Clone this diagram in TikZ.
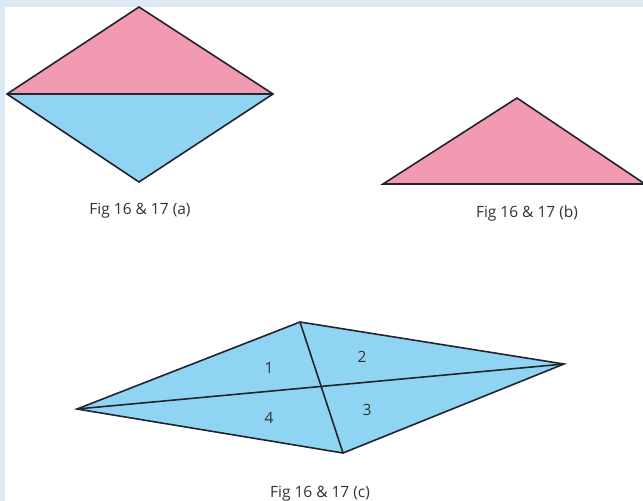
\documentclass[tikz,border=0pt]{standalone}
\usepackage{fontspec}
\setmainfont{Open Sans}
\definecolor{frame}{HTML}{DDE9F5}
\definecolor{pinkfill}{HTML}{F39AB3}
\definecolor{bluefill}{HTML}{8FD5F3}
\definecolor{edge}{HTML}{23232E}
\definecolor{captxt}{HTML}{333333}
\begin{document}
\begin{tikzpicture}[x=1pt,y=-1pt,
  outline/.style={draw=edge,line width=1.6pt,line join=miter},
  caption/.style={text=captxt,font=\fontsize{15.5}{18}\selectfont,inner sep=0pt},
  num/.style={text=captxt,font=\fontsize{15.5}{18}\selectfont,inner sep=0pt}]
\useasboundingbox (0,0) rectangle (643,501);
\clip (0,0) rectangle (643,501);
\fill[frame] (0,0) rectangle (643,501);
\fill[white] (5,6.5) rectangle (643,501);
% (a)
\coordinate (aT) at (139,7);
\coordinate (aL) at (7,94);
\coordinate (aR) at (273,94);
\coordinate (aB) at (139,182);
\fill[pinkfill] (aL) -- (aT) -- (aR) -- cycle;
\fill[bluefill] (aL) -- (aB) -- (aR) -- cycle;
\draw[outline] (aL) -- (aT) -- (aR) -- (aB) -- cycle;
\draw[outline] (aL) -- (aR);
\node[caption] (capa) at (140,211) {Fig 16 \& 17 (a)};
% (b)
\coordinate (bT) at (517,98);
\coordinate (bL) at (383,184);
\coordinate (bR) at (645,184);
\fill[pinkfill] (bL) -- (bT) -- (bR) -- cycle;
\draw[outline] (bL) -- (bT) -- (bR) -- cycle;
\node[caption] (capb) at (527,213) {Fig 16 \& 17 (b)};
% (c)
\coordinate (cT) at (300,322);
\coordinate (cR) at (564,364);
\coordinate (cB) at (343,453);
\coordinate (cL) at (77,409);
\fill[bluefill] (cL) -- (cT) -- (cR) -- (cB) -- cycle;
\draw[outline] (cL) -- (cT) -- (cR) -- (cB) -- cycle;
\draw[outline] (cL) -- (cR);
\draw[outline] (cT) -- (cB);
\node[num] (n1) at (269,368) {1};
\node[num] (n2) at (362,357) {2};
\node[num] (n3) at (367,410) {3};
\node[num] (n4) at (269,418) {4};
\node[caption] (capc) at (320,494) {Fig 16 \& 17 (c)};
\end{tikzpicture}
\end{document}
